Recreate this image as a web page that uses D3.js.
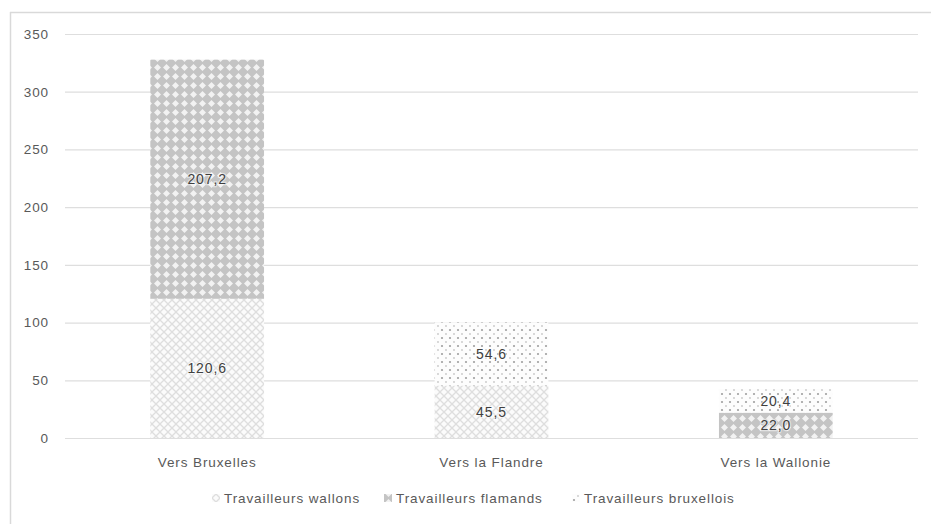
<!DOCTYPE html>
<html>
<head>
<meta charset="utf-8">
<script src="https://cdn.jsdelivr.net/npm/d3@7/dist/d3.min.js"></script>
<style>
  html, body { margin: 0; padding: 0; background: #fff; }
  svg { display: block; font-family: "Liberation Sans", Arial, sans-serif; }
</style>
</head>
<body>
<svg id="chart" width="931" height="524"></svg>
<script>
// Navetteurs par région de destination (milliers)
const categories = ["Vers Bruxelles", "Vers la Flandre", "Vers la Wallonie"];
const seriesNames = ["Travailleurs wallons", "Travailleurs flamands", "Travailleurs bruxellois"];
const wallons = [120.6, 45.5, 0];
const flamands = [207.2, 0, 22.0];
const bruxellois = [0, 54.6, 20.4];
const yTicks = [0, 50, 100, 150, 200, 250, 300, 350];

const seriesValues = [wallons, flamands, bruxellois];
const keys = ["wallons", "flamands", "bruxellois"];
const rows = categories.map((c, i) => {
  const r = { cat: c };
  keys.forEach((k, j) => r[k] = seriesValues[j][i]);
  return r;
});

const svg = d3.select("#chart");
const margin = { left: 65, right: 13, top: 34, bottom: 86 };
const W = 931, H = 524;
const textStyle = sel => sel.attr("font-size", 13.5).attr("letter-spacing", "0.9px");

// chart frame
svg.append("line").attr("x1", 10).attr("x2", W).attr("y1", 12.5).attr("y2", 12.5)
  .attr("stroke", "#d9d9d9").attr("stroke-width", 1.5);
svg.append("line").attr("x1", 10.5).attr("x2", 10.5).attr("y1", 12).attr("y2", H)
  .attr("stroke", "#d9d9d9").attr("stroke-width", 1.5);

// fill patterns
const defs = svg.append("defs");
// wallons: light lattice
const pW = defs.append("pattern").attr("id", "p-wallons").attr("patternUnits", "userSpaceOnUse")
  .attr("width", 8).attr("height", 8);
pW.append("rect").attr("width", 8).attr("height", 8).attr("fill", "#fbfbfb");
pW.append("path").attr("d", "M0,0 L8,8 M8,0 L0,8")
  .attr("stroke", "#dedede").attr("stroke-width", 1.3).attr("fill", "none");
// flamands: diagonal checker
const pF = defs.append("pattern").attr("id", "p-flamands").attr("patternUnits", "userSpaceOnUse")
  .attr("width", 9).attr("height", 9);
pF.append("rect").attr("width", 9).attr("height", 9).attr("fill", "#c4c4c4");
pF.append("path").attr("d", "M4.5,1 L8,4.5 L4.5,8 L1,4.5 Z").attr("fill", "#f2f2f2");
// bruxellois: dotted grid
const pB = defs.append("pattern").attr("id", "p-bruxellois").attr("patternUnits", "userSpaceOnUse")
  .attr("width", 8).attr("height", 8);
pB.append("rect").attr("width", 8).attr("height", 8).attr("fill", "#fdfdfd");
pB.append("circle").attr("cx", 2).attr("cy", 2).attr("r", 1.1).attr("fill", "#a0a0a0");
pB.append("circle").attr("cx", 6).attr("cy", 6).attr("r", 0.9).attr("fill", "#c8c8c8");

const x = d3.scaleBand().domain(categories)
  .range([margin.left, W - margin.right]).paddingInner(0.6).paddingOuter(0.3);
const y = d3.scaleLinear().domain([0, 350]).range([H - margin.bottom, margin.top]);

// gridlines + y labels
const yAxis = d3.axisLeft(y).tickValues(yTicks).tickSize(-(W - margin.right - margin.left)).tickPadding(16);
const gy = svg.append("g").attr("transform", `translate(${margin.left},0)`).call(yAxis);
gy.select(".domain").remove();
gy.selectAll(".tick line").attr("stroke", "#dedede").attr("stroke-width", 1.2);
gy.selectAll(".tick text").attr("fill", "#595959").call(textStyle);

// stacked bars
const stack = d3.stack().keys(keys)(rows);
const layers = svg.append("g").selectAll("g").data(stack).join("g")
  .attr("fill", d => `url(#p-${d.key})`);
layers.selectAll("rect").data(d => d.filter(s => s[1] - s[0] > 0)).join("rect")
  .attr("x", d => x(d.data.cat))
  .attr("width", x.bandwidth())
  .attr("y", d => y(d[1]))
  .attr("height", d => y(d[0]) - y(d[1]));

// value labels
const labels = svg.append("g");
stack.forEach(layer => {
  layer.forEach(s => {
    const v = s[1] - s[0];
    if (v <= 0) return;
    labels.append("text")
      .attr("x", x(s.data.cat) + x.bandwidth() / 2)
      .attr("y", (y(s[0]) + y(s[1])) / 2)
      .attr("dy", "0.35em")
      .attr("text-anchor", "middle")
      .call(textStyle)
      .attr("font-size", 14)
      .attr("fill", "#404040")
      .attr("stroke", "#ffffff").attr("stroke-width", 2.5).attr("stroke-opacity", 0.5)
      .attr("paint-order", "stroke")
      .text(d3.format(".1f")(v).replace(".", ","));
  });
});

// category axis
const xAxis = d3.axisBottom(x).tickSize(0).tickPadding(19);
const gx = svg.append("g").attr("transform", `translate(0,${y(0)})`).call(xAxis);
gx.select(".domain").remove();
gx.selectAll(".tick text").attr("fill", "#595959").call(textStyle);

// legend
const legendX = [212, 384, 572];
const lg = svg.append("g").attr("transform", "translate(0,498)");
seriesNames.forEach((name, i) => {
  const g = lg.append("g").attr("transform", `translate(${legendX[i]},0)`);
  g.append("rect").attr("x", 0).attr("y", -4).attr("width", 8).attr("height", 8)
    .attr("fill", `url(#p-${keys[i]})`);
  g.append("text").attr("x", 12).attr("y", 0).attr("dy", "0.35em")
    .attr("fill", "#595959").call(textStyle).text(name);
});
</script>
</body>
</html>
